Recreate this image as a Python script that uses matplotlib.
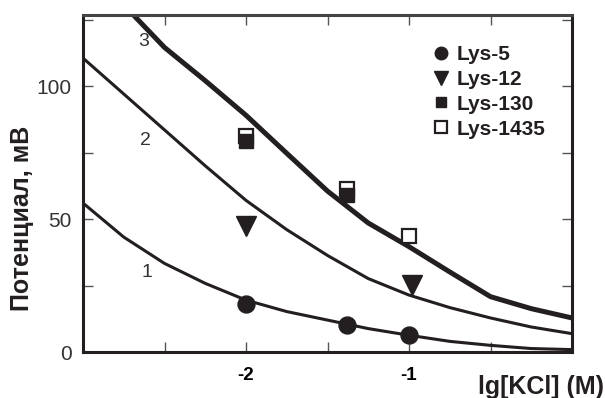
import matplotlib
matplotlib.use("Agg")
import matplotlib.pyplot as plt
from matplotlib.lines import Line2D

plt.rcParams['font.family'] = ['Liberation Sans', 'DejaVu Sans']

# ---- data ----
curve_x = [-3.0, -2.75, -2.5, -2.25, -2.0, -1.75, -1.5, -1.25, -1.0, -0.75, -0.5, -0.25, 0.0]
curve1_y = [56.0, 43.2, 33.3, 25.8, 19.5, 15.2, 12.0, 8.8, 6.3, 4.0, 2.5, 1.3, 0.9]
curve2_y = [110.5, 97.0, 83.5, 70.0, 57.0, 46.0, 36.3, 27.6, 21.4, 16.7, 12.8, 9.4, 6.9]
curve3_y = [145.0, 130.5, 114.5, 102.0, 89.0, 74.7, 60.5, 48.5, 39.6, 30.1, 20.8, 16.3, 12.8]
curve_labels = ["1", "2", "3"]

lys5_x = [-2.0, -1.38, -1.0]
lys5_y = [17.9, 10.2, 6.4]
lys12_x = [-2.0, -0.98]
lys12_y = [47.4, 25.2]
lys130_x = [-2.0, -1.38]
lys130_y = [79.3, 59.0]
lys1435_x = [-2.0, -1.38, -1.0]
lys1435_y = [81.2, 61.3, 43.6]
series_labels = ["Lys-5", "Lys-12", "Lys-130", "Lys-1435"]

xticks_major = [-2, -1]
xtick_labels = ["-2", "-1"]
yticks_major = [0, 50, 100]
ytick_labels = ["0", "50", "100"]
xticks_minor = [-2.5, -1.5, -0.5, 0]
yticks_minor = [25, 75, 125]

ink = '#231f20'

W, H = 605, 398
fig = plt.figure(figsize=(W / 100, H / 100), dpi=100)
ax = fig.add_axes([83 / W, 1 - 352 / H, (572 - 83) / W, (352 - 15) / H])

ax.plot(curve_x, curve1_y, color=ink, lw=2.2, zorder=2, solid_capstyle='butt')
ax.plot(curve_x, curve2_y, color=ink, lw=2.2, zorder=2, solid_capstyle='butt')
ax.plot(curve_x, curve3_y, color=ink, lw=3.6, zorder=2, solid_capstyle='butt')

ax.text(-2.63, 116.7, curve_labels[2], fontsize=14, color='#333333', ha='center', va='center')
ax.text(-2.615, 79.5, curve_labels[1], fontsize=14, color='#333333', ha='center', va='center')
ax.text(-2.61, 29.8, curve_labels[0], fontsize=14, color='#333333', ha='center', va='center')

ax.plot(lys5_x, lys5_y, 'o', color=ink, ms=12.2, zorder=5, linestyle='none')
ax.plot(lys12_x, lys12_y, 'v', color=ink, ms=14.5, zorder=5, linestyle='none')
ax.plot(lys1435_x, lys1435_y, 's', mfc='white', mec=ink, mew=1.6, ms=9.5, zorder=5, linestyle='none')
ax.plot(lys130_x, lys130_y, 's', color=ink, ms=9.5, zorder=6, linestyle='none')

ax.set_xlim(-3, 0)
ax.set_ylim(0, 126.7)

ax.set_xticks(xticks_major)
ax.set_xticklabels(xtick_labels, fontweight='bold', fontsize=13.5)
ax.set_xticks(xticks_minor, minor=True)
ax.set_yticks(yticks_major)
ax.set_yticklabels(ytick_labels, fontsize=15, color='#333333')
ax.set_yticks(yticks_minor, minor=True)
ax.tick_params(which='both', direction='in', length=7, width=1, color='#555555',
               top=True, right=True)
ax.tick_params(axis='x', pad=11)
ax.tick_params(axis='y', pad=8)
for s in ax.spines.values():
    s.set_linewidth(2.2)
    s.set_color(ink)
ax.spines['top'].set_color('#444444')

handles = [
    Line2D([], [], marker='o', color=ink, ms=9, linestyle='none'),
    Line2D([], [], marker='v', color=ink, ms=9.5, linestyle='none'),
    Line2D([], [], marker='s', color=ink, ms=6.5, linestyle='none'),
    Line2D([], [], marker='s', mfc='white', mec=ink, mew=1.6, ms=9, linestyle='none'),
]
leg = ax.legend(handles, series_labels, loc='upper left',
                bbox_to_anchor=((433 - 83) / 489, (352 - 45) / 337),
                frameon=False, prop={'weight': 'bold', 'size': 15},
                handlelength=0.8, handletextpad=0.35, labelspacing=0.28,
                borderpad=0, borderaxespad=0)
for t in leg.get_texts():
    t.set_color(ink)

fig.text(22.5 / W, 1 - 218 / H, "Потенциал, мВ", rotation=90, fontsize=18,
         fontweight='bold', ha='center', va='center', color=ink)
fig.text(604 / W, 1 - 387 / H, "lg[KCl] (M)", fontsize=18, fontweight='bold',
         ha='right', va='center', color=ink)

fig.savefig("out.png", dpi=100)
